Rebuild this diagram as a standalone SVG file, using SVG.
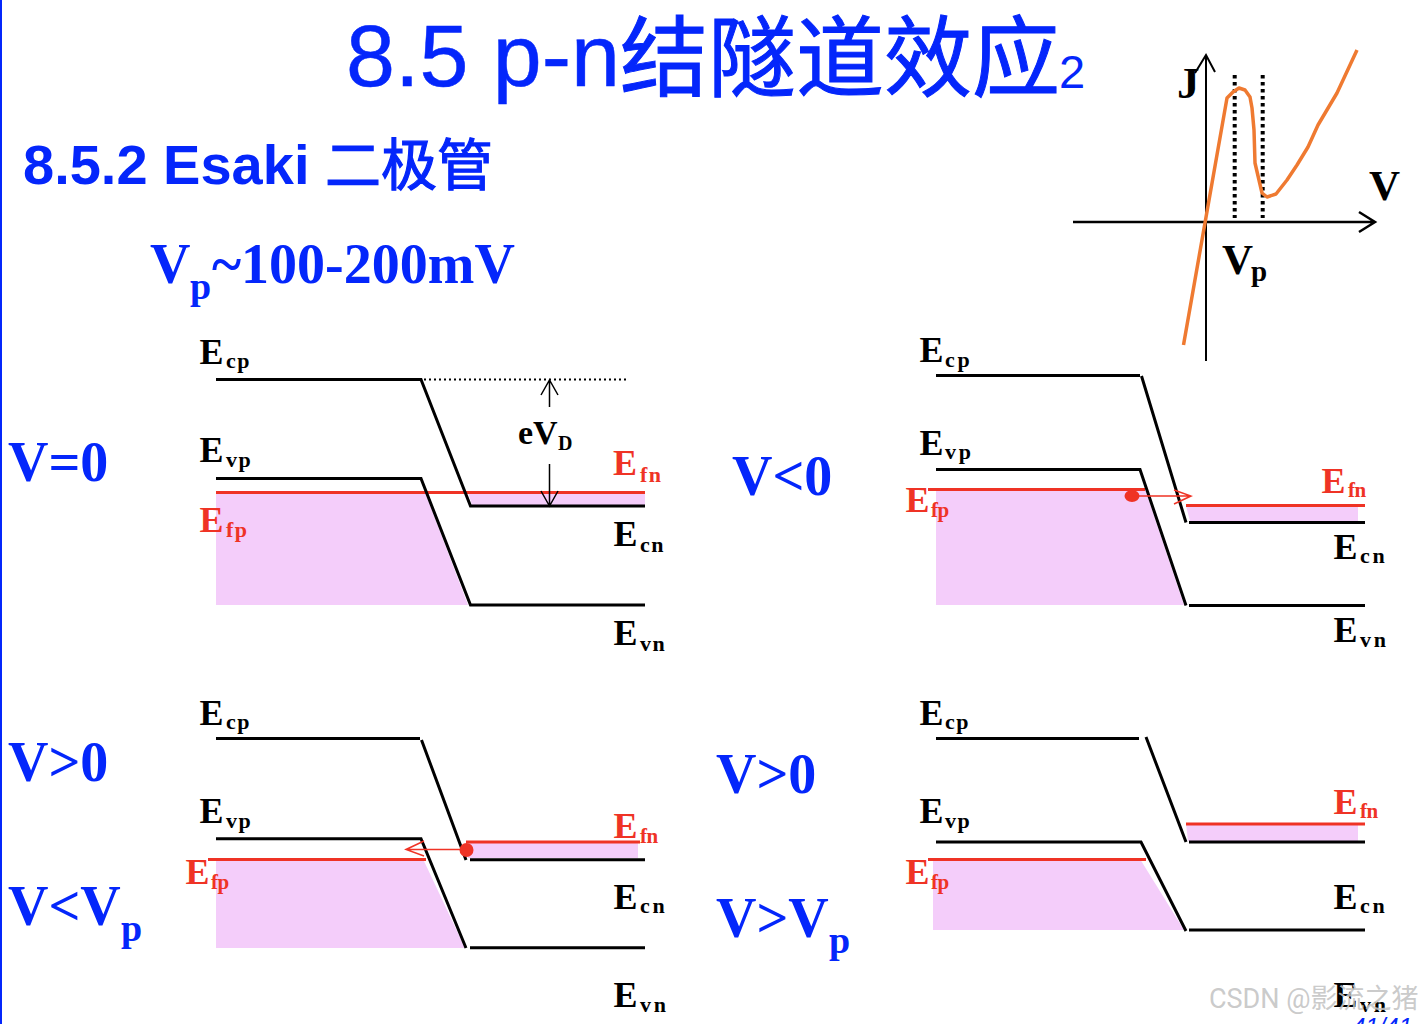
<svg xmlns="http://www.w3.org/2000/svg" width="1424" height="1024" viewBox="0 0 1424 1024">
<style>
text{white-space:pre}
.ti{font-family:"Liberation Sans","Noto Sans CJK SC",sans-serif;fill:#0426fb}
.b{font-family:"Liberation Serif",serif;font-weight:bold;fill:#0426fb;font-size:56px}
.bs{font-size:38px}
.e{font-family:"Liberation Serif",serif;font-weight:bold;font-size:36px;fill:#000}
.s{font-family:"Liberation Serif",serif;font-weight:bold;font-size:22px;fill:#000;letter-spacing:1.5px}
.w{letter-spacing:2.800px}
.r{fill:#ef3325}
.t{letter-spacing:-.5px;font-size:21px}
.k{fill:none;stroke:#000;stroke-width:3}
.kr{fill:none;stroke:#ef3325;stroke-width:3}
.th{fill:none;stroke:#ef3325;stroke-width:1.500}
.f{fill:#f4cdfa;stroke:none}
.a{fill:none;stroke:#000;stroke-width:1.500}
</style>
<rect width="1424" height="1024" fill="#fff"/>
<rect x="0" y="0" width="2" height="1024" fill="#0426fb"/>
<g id="title">
<text class="ti" x="346" y="86" font-size="88" stroke="#0426fb" stroke-width=".5">8.5 p-n<tspan dy="3" stroke-width="1">结隧道效应</tspan></text>
<text class="ti" x="1059" y="88" font-size="47">2</text>
<text class="ti" x="23" y="184" font-size="56" font-weight="bold">8.5.2 Esaki <tspan font-weight="normal" stroke="#0426fb" stroke-width="1.200" dy="1">二极管</tspan></text>
<text class="b" x="150" y="283">V</text><text class="b bs" x="190" y="299">p</text><text class="b" x="212" y="283">~100-200mV</text>
</g>
<g id="bias-labels">
<text class="b" x="8" y="481">V=0</text>
<text class="b" x="732" y="495">V&lt;0</text>
<text class="b" x="8" y="781">V&gt;0</text>
<text class="b" x="8" y="925">V&lt;V</text><text class="b bs" x="121" y="941">p</text>
<text class="b" x="716" y="793">V&gt;0</text>
<text class="b" x="716" y="937">V&gt;V</text><text class="b bs" x="829" y="953">p</text>
</g>
<g id="jv-curve">
<path d="M1206 361V55M1195 73L1206 55L1215 72" fill="none" stroke="#000" stroke-width="2"/>
<path d="M1073 222H1375M1359 212L1375 222L1359 232" fill="none" stroke="#000" stroke-width="2.500"/>
<path d="M1234.700 75V218M1262.700 75V218" fill="none" stroke="#000" stroke-width="4" stroke-dasharray="3.500 3.500"/>
<path d="M1183.500 345L1227 98L1233 92L1239 88L1245 90L1250 97L1252 108L1254 130L1255 163L1262 193L1267 197L1276 194L1287 180L1297 165L1308 147L1318 125L1337 93L1357 50" fill="none" stroke="#ef7a31" stroke-width="3.500" stroke-linejoin="round"/>
<text class="e" x="1177" y="98" style="font-size:45px">J</text>
<text class="e" x="1369" y="200" style="font-size:43px">V</text>
<text class="e" x="1222" y="274" style="font-size:43px">V</text>
<text class="e" x="1251" y="281" style="font-size:29px">p</text>
</g>
<g id="panel-v0">
<polygon class="f" points="216,492 425,492 468,605 216,605"/>
<polygon class="f" points="468,492 645,492 645,505 472,505"/>
<path class="kr" d="M216 492.500H645"/>
<path class="k" d="M216 379.500H421L470.500 506H645M216 478.500H421L470.500 605H645"/>
<path d="M424 379.500H628" fill="none" stroke="#000" stroke-width="2" stroke-dasharray="2 3"/>
<path class="a" d="M549.500 407V380M541 395L549.500 380L558 395M549.500 464V505M541 491L549.500 506L558 491"/>
<text class="e" x="518" y="444" style="font-size:34px">eV</text><text class="s" x="558" y="450" style="font-size:20px">D</text>
<text class="e" x="199.500" y="364">E</text><text class="s" x="226" y="368">cp</text>
<text class="e" x="199.500" y="462">E</text><text class="s" x="226" y="467">vp</text>
<text class="e r" x="199.500" y="532">E</text><text class="s r" x="226" y="537">fp</text>
<text class="e r" x="613" y="475">E</text><text class="s r" x="640" y="482">fn</text>
<text class="e" x="613.500" y="546">E</text><text class="s" x="640" y="552">cn</text>
<text class="e" x="613.500" y="645">E</text><text class="s" x="640" y="651">vn</text>
</g>
<g id="panel-vneg">
<polygon class="f" points="936,489 1145,489 1184,605 936,605"/>
<polygon class="f" points="1186,506 1358,506 1358,521 1190,521"/>
<path class="kr" d="M928 489.500H1145M1186 505.500H1365"/>
<path class="k" d="M936 375.500H1140M1141.500 376L1186 522.500M1189 522.500H1365M936 469.500H1140L1186 605.500M1189 605.500H1365"/>
<ellipse cx="1132" cy="496" rx="7.500" ry="6" fill="#ef3325"/>
<path class="th" d="M1132 496H1191M1174 490L1191 496L1174 504"/>
<text class="e" x="919.500" y="362">E</text><text class="s w" x="945" y="367">cp</text>
<text class="e" x="919.500" y="455">E</text><text class="s w" x="945" y="459">vp</text>
<text class="e r" x="905.500" y="512">E</text><text class="s r t" x="931" y="517">fp</text>
<text class="e r" x="1321.500" y="493">E</text><text class="s r t" x="1348" y="497">fn</text>
<text class="e" x="1333.500" y="559">E</text><text class="s w" x="1360" y="563">cn</text>
<text class="e" x="1333.500" y="642">E</text><text class="s w" x="1360" y="647">vn</text>
</g>
<g id="panel-vpos-low">
<polygon class="f" points="216,859 423,859 465,948 216,948"/>
<polygon class="f" points="466,842 638,842 638,858 468,858"/>
<path class="kr" d="M208 859.500H426M466 842H640"/>
<path class="k" d="M216 738.500H420M421.500 740L466 860M470 859.700H645M216 838.700H421L466 948M470 947.700H645"/>
<circle cx="466.500" cy="850" r="7" fill="#ef3325"/>
<path class="th" d="M466 849.500H406M424 841L406 849.500L424 856"/>
<text class="e" x="199.500" y="725">E</text><text class="s" x="226" y="729">cp</text>
<text class="e" x="199.500" y="823">E</text><text class="s" x="226" y="828">vp</text>
<text class="e r" x="185.500" y="884">E</text><text class="s r t" x="211" y="889">fp</text>
<text class="e r" x="613.500" y="838">E</text><text class="s r t" x="640" y="843">fn</text>
<text class="e" x="613.500" y="909">E</text><text class="s w" x="640" y="913">cn</text>
<text class="e" x="613.500" y="1007">E</text><text class="s w" x="640" y="1012">vn</text>
</g>
<g id="panel-vpos-high">
<polygon class="f" points="933,859 1140,859 1184,930 933,930"/>
<polygon class="f" points="1186,824 1358,824 1358,841 1188,841"/>
<path class="kr" d="M928 859.500H1146M1186 824H1365"/>
<path class="k" d="M936 738.500H1139M1146 737L1186 842M1189 842H1365M936 842H1141L1186 931M1189 930H1365"/>
<text class="e" x="919.500" y="725">E</text><text class="s" x="945" y="729">cp</text>
<text class="e" x="919.500" y="823">E</text><text class="s" x="945" y="828">vp</text>
<text class="e r" x="905.500" y="884">E</text><text class="s r t" x="931" y="889">fp</text>
<text class="e r" x="1333.500" y="814">E</text><text class="s r t" x="1360" y="818">fn</text>
<text class="e" x="1333.500" y="909">E</text><text class="s w" x="1360" y="913">cn</text>
<text class="e" x="1333.500" y="1007">E</text><text class="s w" x="1360" y="1012">vn</text>
</g>
<text class="ti" x="1352" y="1035" font-size="24" font-style="italic">41/41</text>
<text id="watermark" x="1209" y="1008" font-size="27" font-family="Roboto,'Noto Sans CJK SC',sans-serif" fill="#c4c4c4" fill-opacity=".9">CSDN @影流之猪</text>
</svg>
